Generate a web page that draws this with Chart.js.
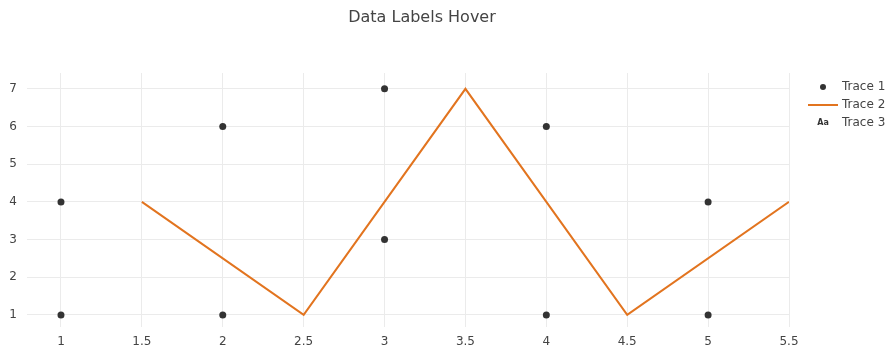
<!DOCTYPE html>
<html>
<head>
<meta charset="utf-8">
<title>Data Labels Hover</title>
<script src="https://cdn.jsdelivr.net/npm/chart.js@4/dist/chart.umd.min.js"></script>
<style>
  html, body { margin: 0; padding: 0; background: #fff; }
  #wrap { width: 895px; height: 359px; }
</style>
</head>
<body>
<div id="wrap"><canvas id="chart" width="895" height="359"></canvas></div>
<script>
// values
const trace1X = [1, 2, 3, 4, 5]
const trace1Y = [1, 6, 3, 6, 1]
const trace2X = [1.5, 2.5, 3.5, 4.5, 5.5]
const trace2Y = [4, 1, 7, 1, 4]
const trace3X = [1, 2, 3, 4, 5]
const trace3Y = [4, 1, 7, 1, 4]
const trace3Text = ['A', 'B', 'C', 'D', 'E']
const traceNames = ['Trace 1', 'Trace 2', 'Trace 3']
const xTicks = [1, 1.5, 2, 2.5, 3, 3.5, 4, 4.5, 5, 5.5]
const yTicks = [1, 2, 3, 4, 5, 6, 7]

const FONT = '"DejaVu Sans", Verdana, sans-serif'
const MARKER = '#333333'
const ORANGE = '#e2741f'
const TEXT = '#444444'

const toPoints = (xs, ys) => xs.map((x, i) => ({ x, y: ys[i] }))

const titlePlugin = {
  id: 'plotTitle',
  afterDraw(chart) {
    const ctx = chart.ctx
    ctx.save()
    ctx.font = '16px ' + FONT
    ctx.fillStyle = TEXT
    ctx.textAlign = 'center'
    ctx.textBaseline = 'middle'
    ctx.fillText('Data Labels Hover', 422, 18)
    ctx.restore()
  },
}

const legendPlugin = {
  id: 'sideLegend',
  afterDraw(chart) {
    const ctx = chart.ctx
    const symX = 823
    const textX = 842
    const rows = [87, 105, 123]
    ctx.save()
    ctx.font = '12px ' + FONT
    ctx.textBaseline = 'middle'
    ctx.textAlign = 'left'
    rows.forEach((y, i) => {
      ctx.fillStyle = TEXT
      ctx.fillText(traceNames[i], textX, y)
      if (i === 0) {
        ctx.fillStyle = MARKER
        ctx.beginPath()
        ctx.arc(symX, y, 3, 0, Math.PI * 2)
        ctx.fill()
      } else if (i === 1) {
        ctx.strokeStyle = ORANGE
        ctx.lineWidth = 2
        ctx.beginPath()
        ctx.moveTo(808, y)
        ctx.lineTo(838, y)
        ctx.stroke()
      } else {
        ctx.fillStyle = MARKER
        ctx.font = 'bold 8px ' + FONT
        ctx.textAlign = 'center'
        ctx.fillText('Aa', symX, y)
      }
    })
    ctx.restore()
  },
}

const gridOpts = { color: '#ebebeb', lineWidth: 1, drawTicks: false }
const tickFont = { family: FONT, size: 12 }
const plainNumber = (value) => String(value)

new Chart(document.getElementById('chart').getContext('2d'), {
  type: 'scatter',
  data: {
    datasets: [
      {
        label: traceNames[0],
        data: toPoints(trace1X, trace1Y),
        backgroundColor: MARKER,
        borderColor: MARKER,
        pointRadius: 3.5,
        borderWidth: 0,
      },
      {
        label: traceNames[1],
        data: toPoints(trace2X, trace2Y),
        showLine: true,
        borderColor: ORANGE,
        backgroundColor: ORANGE,
        borderWidth: 2,
        pointRadius: 0,
        tension: 0,
      },
      {
        label: traceNames[2],
        data: toPoints(trace3X, trace3Y),
        text: trace3Text,
        backgroundColor: MARKER,
        borderColor: MARKER,
        pointRadius: 3.5,
        borderWidth: 0,
      },
    ],
  },
  options: {
    responsive: false,
    animation: false,
    layout: { padding: { top: 73, right: 106, left: 0, bottom: 0 } },
    plugins: {
      legend: { display: false },
      title: { display: false },
      tooltip: { enabled: true },
    },
    scales: {
      x: {
        type: 'linear',
        min: 0.79,
        max: 5.5,
        grid: gridOpts,
        border: { display: false },
        ticks: { color: TEXT, font: tickFont, padding: 8, maxRotation: 0, autoSkip: false, callback: plainNumber },
        afterBuildTicks: (scale) => {
          scale.ticks = xTicks.map((value) => ({ value }))
        },
        afterFit: (scale) => {
          scale.height = 32
        },
      },
      y: {
        type: 'linear',
        min: 0.68,
        max: 7.42,
        grid: gridOpts,
        border: { display: false },
        ticks: { color: TEXT, font: tickFont, padding: 10, callback: plainNumber },
        afterBuildTicks: (scale) => {
          scale.ticks = yTicks.map((value) => ({ value }))
        },
        afterFit: (scale) => {
          scale.width = 27
        },
      },
    },
  },
  plugins: [titlePlugin, legendPlugin],
})
</script>
</body>
</html>
